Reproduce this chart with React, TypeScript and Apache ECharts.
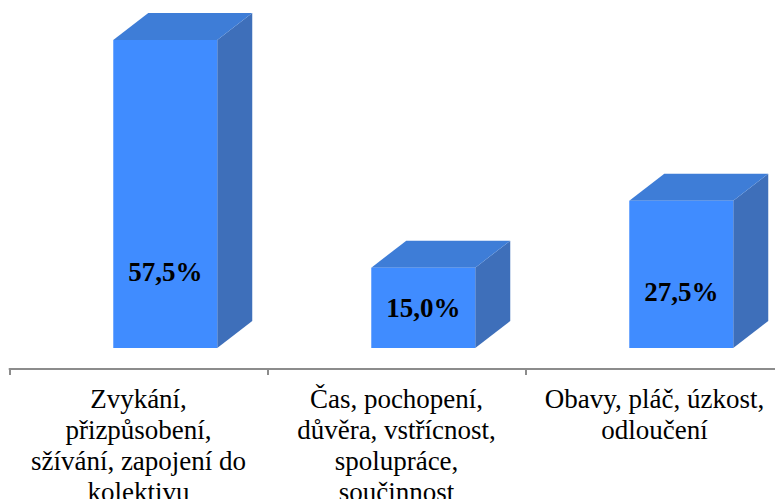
import React, { useEffect, useRef } from 'react';
import * as echarts from 'echarts';

const categories = [
  'Zvykání,\npřizpůsobení,\nsžívání, zapojení do\nkolektivu',
  'Čas, pochopení,\ndůvěra, vstřícnost,\nspolupráce,\nsoučinnost',
  'Obavy, pláč, úzkost,\nodloučení',
];
const values = [57.5, 15.0, 27.5];
const valueLabels = ['57,5%', '15,0%', '27,5%'];
// vertical anchor of the in-bar labels (in axis units)
const labelLevels = [14.2, 7.5, 10.5];

const FRONT = '#408CFF';
const TOP = '#3E7DD7';
const SIDE = '#3E6FBA';
const SERIF = 'Liberation Serif';

export default function App() {
  const ref = useRef<HTMLDivElement>(null);
  useEffect(() => {
    document.body.style.margin = '0';
    const chart = echarts.init(ref.current!, undefined, { renderer: 'svg' });
    const option: any = {
      animation: false,
      backgroundColor: '#ffffff',
      textStyle: { fontFamily: SERIF },
      grid: { left: 9.5, width: 774, top: 26.6, bottom: 151, outerBoundsMode: 'none', containLabel: false },
      xAxis: {
        type: 'category',
        data: categories,
        offset: 21,
        axisLine: { show: true, onZero: false, lineStyle: { color: '#8c8c8c', width: 2 } },
        axisTick: { show: true, length: 6, lineStyle: { color: '#8c8c8c', width: 2 } },
        axisLabel: {
          interval: 0,
          margin: 14,
          color: '#000',
          fontFamily: SERIF,
          fontSize: 27,
          lineHeight: 31,
          align: 'center',
        },
      },
      yAxis: { type: 'value', min: 0, max: 60, show: false, splitLine: { show: false } },
      series: [
        {
          type: 'custom',
          clip: false,
          data: values.map((v, i) => [i, v, labelLevels[i]]),
          encode: { x: 0, y: 1 },
          renderItem: (params: any, api: any) => {
            const idx = api.value(0);
            const val = api.value(1);
            const lab = api.value(2);
            const band = api.size([1, 0])[0];
            const top = api.coord([idx, val]);
            const base = api.coord([idx, 0]);
            const labPt = api.coord([idx, lab]);
            const cx = top[0] + band * 0.1037;
            const w = band * 0.403;
            const dx = band * 0.1357;
            const dy = dx * 0.77;
            const x0 = cx - w / 2;
            const x1 = cx + w / 2;
            const yT = top[1];
            const yB = base[1];
            return {
              type: 'group',
              children: [
                {
                  type: 'polygon',
                  shape: { points: [[x1, yT], [x1 + dx, yT - dy], [x1 + dx, yB - dy], [x1, yB]] },
                  style: { fill: SIDE },
                },
                {
                  type: 'polygon',
                  shape: { points: [[x0, yT], [x0 + dx, yT - dy], [x1 + dx, yT - dy], [x1, yT]] },
                  style: { fill: TOP },
                },
                {
                  type: 'rect',
                  shape: { x: x0, y: yT, width: w, height: yB - yT },
                  style: { fill: FRONT },
                },
                {
                  type: 'text',
                  x: cx,
                  y: labPt[1],
                  style: {
                    text: valueLabels[params.dataIndex],
                    fill: '#000',
                    fontFamily: SERIF,
                    fontWeight: 'bold',
                    fontSize: 27,
                    align: 'center',
                    verticalAlign: 'middle',
                  },
                },
              ],
            };
          },
        },
      ],
    };
    chart.setOption(option);
    return () => chart.dispose();
  }, []);
  return <div ref={ref} style={{ width: 775, height: 499 }} />;
}
